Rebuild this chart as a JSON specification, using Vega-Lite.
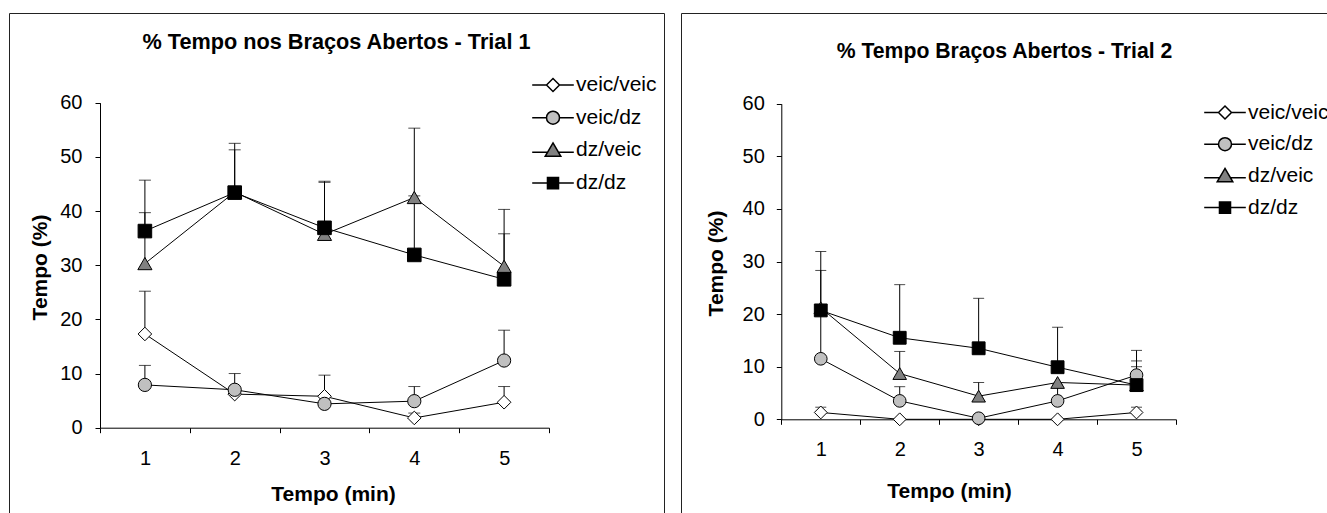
{
  "$schema": "https://vega.github.io/schema/vega-lite/v6.json",
  "padding": {"left": 8, "top": 12, "right": 0, "bottom": 0},
  "background": "white",
  "spacing": 15,
  "config": {
    "view": {"stroke": "#222222", "strokeWidth": 1},
    "font": "Liberation Sans",
    "axis": {"domainColor": "#000000", "tickColor": "#000000", "labelColor": "#000000", "titleColor": "#000000", "labelFont": "Liberation Sans", "titleFont": "Liberation Sans", "labelFontSize": 20, "titleFontSize": 21, "titleFontWeight": "bold", "grid": false, "tickSize": 5, "domainWidth": 1, "tickWidth": 1, "labelOverlap": false, "labelBound": false, "labelFlush": false},
    "title": {"font": "Liberation Sans", "fontWeight": "bold", "color": "#000000", "anchor": "middle", "frame": "group", "baseline": "middle"},
    "legend": {"title": null, "orient": "none", "padding": 0, "labelFont": "Liberation Sans", "labelFontSize": 21, "labelColor": "#000000", "labelOffset": 12.5, "symbolSize": 169, "labelLimit": 300}
  },
  "resolve": {"scale": {"x": "independent", "y": "independent", "shape": "independent", "fill": "independent"}, "legend": {"shape": "independent", "fill": "independent"}},
  "datasets": {
    "d": [
      {"trial": 1, "grupo": "veic/veic", "tempo": 1, "pct": 17.3, "sup": 25.2},
      {"trial": 1, "grupo": "veic/veic", "tempo": 2, "pct": 6.2, "sup": null},
      {"trial": 1, "grupo": "veic/veic", "tempo": 3, "pct": 5.8, "sup": 9.7},
      {"trial": 1, "grupo": "veic/veic", "tempo": 4, "pct": 1.8, "sup": 2.7},
      {"trial": 1, "grupo": "veic/veic", "tempo": 5, "pct": 4.7, "sup": 7.6},
      {"trial": 1, "grupo": "veic/dz", "tempo": 1, "pct": 7.9, "sup": 11.5},
      {"trial": 1, "grupo": "veic/dz", "tempo": 2, "pct": 7.0, "sup": 10.0},
      {"trial": 1, "grupo": "veic/dz", "tempo": 3, "pct": 4.4, "sup": null},
      {"trial": 1, "grupo": "veic/dz", "tempo": 4, "pct": 4.9, "sup": 7.6},
      {"trial": 1, "grupo": "veic/dz", "tempo": 5, "pct": 12.4, "sup": 18.0},
      {"trial": 1, "grupo": "dz/veic", "tempo": 1, "pct": 30.3, "sup": 39.7},
      {"trial": 1, "grupo": "dz/veic", "tempo": 2, "pct": 43.5, "sup": 51.3},
      {"trial": 1, "grupo": "dz/veic", "tempo": 3, "pct": 35.7, "sup": 45.3},
      {"trial": 1, "grupo": "dz/veic", "tempo": 4, "pct": 42.5, "sup": 55.3},
      {"trial": 1, "grupo": "dz/veic", "tempo": 5, "pct": 29.8, "sup": 40.3},
      {"trial": 1, "grupo": "dz/dz", "tempo": 1, "pct": 36.3, "sup": 45.7},
      {"trial": 1, "grupo": "dz/dz", "tempo": 2, "pct": 43.4, "sup": 52.5},
      {"trial": 1, "grupo": "dz/dz", "tempo": 3, "pct": 36.9, "sup": 45.5},
      {"trial": 1, "grupo": "dz/dz", "tempo": 4, "pct": 31.9, "sup": 42.8},
      {"trial": 1, "grupo": "dz/dz", "tempo": 5, "pct": 27.4, "sup": 35.8},
      {"trial": 2, "grupo": "veic/veic", "tempo": 1, "pct": 1.3, "sup": 2.3},
      {"trial": 2, "grupo": "veic/veic", "tempo": 2, "pct": 0, "sup": null},
      {"trial": 2, "grupo": "veic/veic", "tempo": 3, "pct": 0, "sup": null},
      {"trial": 2, "grupo": "veic/veic", "tempo": 4, "pct": 0, "sup": null},
      {"trial": 2, "grupo": "veic/veic", "tempo": 5, "pct": 1.3, "sup": 2.3},
      {"trial": 2, "grupo": "veic/dz", "tempo": 1, "pct": 11.5, "sup": 20.5},
      {"trial": 2, "grupo": "veic/dz", "tempo": 2, "pct": 3.5, "sup": 6.2},
      {"trial": 2, "grupo": "veic/dz", "tempo": 3, "pct": 0.2, "sup": null},
      {"trial": 2, "grupo": "veic/dz", "tempo": 4, "pct": 3.5, "sup": 6.5},
      {"trial": 2, "grupo": "veic/dz", "tempo": 5, "pct": 8.4, "sup": 11.1},
      {"trial": 2, "grupo": "dz/veic", "tempo": 1, "pct": 21.2, "sup": 28.3},
      {"trial": 2, "grupo": "dz/veic", "tempo": 2, "pct": 8.7, "sup": 12.9},
      {"trial": 2, "grupo": "dz/veic", "tempo": 3, "pct": 4.4, "sup": 7.0},
      {"trial": 2, "grupo": "dz/veic", "tempo": 4, "pct": 7.0, "sup": null},
      {"trial": 2, "grupo": "dz/veic", "tempo": 5, "pct": 6.5, "sup": 10.0},
      {"trial": 2, "grupo": "dz/dz", "tempo": 1, "pct": 20.7, "sup": 31.9},
      {"trial": 2, "grupo": "dz/dz", "tempo": 2, "pct": 15.5, "sup": 25.6},
      {"trial": 2, "grupo": "dz/dz", "tempo": 3, "pct": 13.5, "sup": 23.0},
      {"trial": 2, "grupo": "dz/dz", "tempo": 4, "pct": 9.9, "sup": 17.5},
      {"trial": 2, "grupo": "dz/dz", "tempo": 5, "pct": 6.5, "sup": 13.1}
    ]
  },
  "hconcat": [
    {
      "width": 655,
      "height": 505,
      "data": {"name": "d"},
      "transform": [{"filter": "datum.trial === 1"}],
      "title": {"text": "% Tempo nos Braços Abertos - Trial 1", "offset": -41, "fontSize": 21.7},
      "encoding": {
        "x": {"field": "tempo", "type": "quantitative", "scale": {"domain": [0.5, 5.5], "range": [91, 540], "nice": false, "zero": false},
              "axis": {"title": "Tempo (min)", "values": [0.5, 1.5, 2.5, 3.5, 4.5, 5.5], "labelExpr": "datum.value < 5 ? '' + (datum.value + 0.5) : ''", "labelOffset": 45, "labelBaseline": "middle", "labelPadding": 26, "offset": -90.3, "titleX": 324, "titleY": 67, "titleBaseline": "middle"}},
        "y": {"field": "pct", "type": "quantitative", "scale": {"domain": [0, 60], "range": [414.7, 89.7], "nice": false, "zero": false},
              "axis": {"title": "Tempo (%)", "values": [0, 10, 20, 30, 40, 50, 60], "labelPadding": 13, "offset": -91, "titleX": -60, "titleY": 254, "titleAngle": 270, "titleAlign": "center", "titleBaseline": "middle"}}
      },
      "layer": [
        {"mark": {"type": "line", "color": "#000000", "strokeWidth": 1}, "encoding": {"detail": {"field": "grupo"}}},
        {"transform": [{"filter": "datum.sup != null"}], "mark": {"type": "rule", "color": "#000000", "strokeWidth": 1}, "encoding": {"y2": {"field": "sup"}}},
        {"transform": [{"filter": "datum.sup != null"}], "mark": {"type": "tick", "orient": "horizontal", "size": 12, "thickness": 1, "color": "#000000"}, "encoding": {"y": {"field": "sup", "type": "quantitative"}}},
        {"transform": [{"filter": "datum.grupo === 'veic/veic'"}], "mark": {"type": "point", "shape": "diamond", "filled": true, "fill": "#ffffff", "stroke": "#000000", "strokeWidth": 1, "opacity": 1, "size": 185}},
        {"transform": [{"filter": "datum.grupo === 'veic/dz'"}], "mark": {"type": "point", "shape": "circle", "filled": true, "fill": "#c0c0c0", "stroke": "#000000", "strokeWidth": 1, "opacity": 1, "size": 175}},
        {"transform": [{"filter": "datum.grupo === 'dz/veic'"}], "mark": {"type": "point", "shape": "triangle-up", "filled": true, "fill": "#808080", "stroke": "#000000", "strokeWidth": 1, "opacity": 1, "size": 200}},
        {"transform": [{"filter": "datum.grupo === 'dz/dz'"}], "mark": {"type": "point", "shape": "square", "filled": true, "fill": "#000000", "stroke": "#000000", "strokeWidth": 1, "opacity": 1, "size": 185}},
        {"transform": [{"filter": "datum.trial === 0"}],
         "mark": {"type": "point", "filled": true, "stroke": "#000000", "strokeWidth": 1, "opacity": 1, "size": 169},
         "encoding": {
           "shape": {"field": "grupo", "type": "nominal", "scale": {"domain": ["veic/veic", "veic/dz", "dz/veic", "dz/dz"], "range": ["M-3.2,0H-1M1,0H3.2M-1,0L0,-1L1,0L0,1Z", "M-3.2,0H-1M1,0H3.2M-1,0A1,1 0 1 0 1,0A1,1 0 1 0 -1,0Z", "M-3.2,0.3H-0.85M0.85,0.3H3.2M0,-1.15L1.2,0.9L-1.2,0.9Z", "M-3.2,0H-0.85M0.85,0H3.2M-0.85,-0.85H0.85V0.85H-0.85Z"]},
             "legend": {"legendX": 533.5, "legendY": 61.5, "rowPadding": 10.7}},
           "fill": {"field": "grupo", "type": "nominal", "scale": {"domain": ["veic/veic", "veic/dz", "dz/veic", "dz/dz"], "range": ["#ffffff", "#c0c0c0", "#808080", "#000000"]},
             "legend": {"legendX": 533.5, "legendY": 61.5, "rowPadding": 10.7}}
         }}
      ]
    },
    {
      "width": 647,
      "height": 505,
      "data": {"name": "d"},
      "transform": [{"filter": "datum.trial === 2"}],
      "title": {"text": "% Tempo Braços Abertos - Trial 2", "offset": -49, "fontSize": 21.2},
      "encoding": {
        "x": {"field": "tempo", "type": "quantitative", "scale": {"domain": [0.5, 5.5], "range": [100.3, 495], "nice": false, "zero": false},
              "axis": {"title": "Tempo (min)", "values": [0.5, 1.5, 2.5, 3.5, 4.5, 5.5], "labelExpr": "datum.value < 5 ? '' + (datum.value + 0.5) : ''", "labelOffset": 39.5, "labelBaseline": "middle", "labelPadding": 25, "offset": -98.7, "titleX": 268, "titleY": 72, "titleBaseline": "middle"}},
        "y": {"field": "pct", "type": "quantitative", "scale": {"domain": [0, 60], "range": [406.3, 90.7], "nice": false, "zero": false},
              "axis": {"title": "Tempo (%)", "values": [0, 10, 20, 30, 40, 50, 60], "labelPadding": 12, "offset": -100.3, "titleX": -65.3, "titleY": 250, "titleAngle": 270, "titleAlign": "center", "titleBaseline": "middle"}}
      },
      "layer": [
        {"mark": {"type": "line", "color": "#000000", "strokeWidth": 1}, "encoding": {"detail": {"field": "grupo"}}},
        {"transform": [{"filter": "datum.sup != null"}], "mark": {"type": "rule", "color": "#000000", "strokeWidth": 1}, "encoding": {"y2": {"field": "sup"}}},
        {"transform": [{"filter": "datum.sup != null"}], "mark": {"type": "tick", "orient": "horizontal", "size": 11, "thickness": 1, "color": "#000000"}, "encoding": {"y": {"field": "sup", "type": "quantitative"}}},
        {"transform": [{"filter": "datum.grupo === 'veic/veic'"}], "mark": {"type": "point", "shape": "diamond", "filled": true, "fill": "#ffffff", "stroke": "#000000", "strokeWidth": 1, "opacity": 1, "size": 165}},
        {"transform": [{"filter": "datum.grupo === 'veic/dz'"}], "mark": {"type": "point", "shape": "circle", "filled": true, "fill": "#c0c0c0", "stroke": "#000000", "strokeWidth": 1, "opacity": 1, "size": 160}},
        {"transform": [{"filter": "datum.grupo === 'dz/veic'"}], "mark": {"type": "point", "shape": "triangle-up", "filled": true, "fill": "#808080", "stroke": "#000000", "strokeWidth": 1, "opacity": 1, "size": 185}},
        {"transform": [{"filter": "datum.grupo === 'dz/dz'"}], "mark": {"type": "point", "shape": "square", "filled": true, "fill": "#000000", "stroke": "#000000", "strokeWidth": 1, "opacity": 1, "size": 165}},
        {"transform": [{"filter": "datum.trial === 0"}],
         "mark": {"type": "point", "filled": true, "stroke": "#000000", "strokeWidth": 1, "opacity": 1, "size": 169},
         "encoding": {
           "shape": {"field": "grupo", "type": "nominal", "scale": {"domain": ["veic/veic", "veic/dz", "dz/veic", "dz/dz"], "range": ["M-3.2,0H-1M1,0H3.2M-1,0L0,-1L1,0L0,1Z", "M-3.2,0H-1M1,0H3.2M-1,0A1,1 0 1 0 1,0A1,1 0 1 0 -1,0Z", "M-3.2,0.3H-0.85M0.85,0.3H3.2M0,-1.15L1.2,0.9L-1.2,0.9Z", "M-3.2,0H-0.85M0.85,0H3.2M-0.85,-0.85H0.85V0.85H-0.85Z"]},
             "legend": {"legendX": 533.5, "legendY": 89, "rowPadding": 9.7}},
           "fill": {"field": "grupo", "type": "nominal", "scale": {"domain": ["veic/veic", "veic/dz", "dz/veic", "dz/dz"], "range": ["#ffffff", "#c0c0c0", "#808080", "#000000"]},
             "legend": {"legendX": 533.5, "legendY": 89, "rowPadding": 9.7}}
         }}
      ]
    }
  ]
}
